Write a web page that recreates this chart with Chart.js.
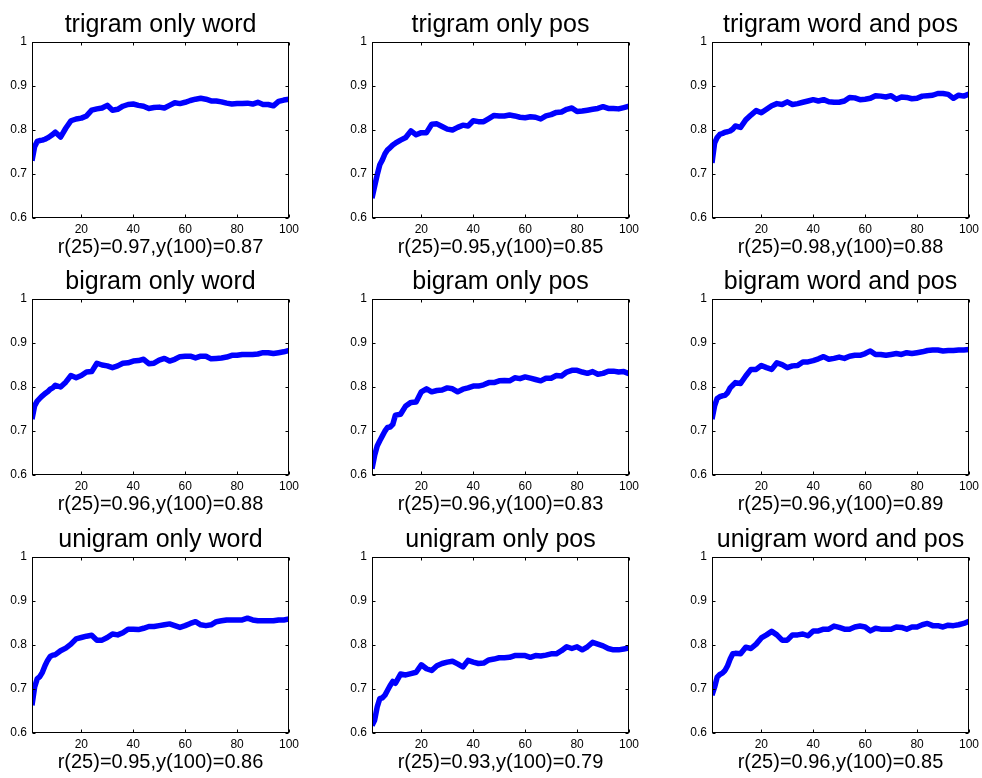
<!DOCTYPE html>
<html>
<head>
<meta charset="utf-8">
<script src="https://cdn.jsdelivr.net/npm/chart.js@4.4.1/dist/chart.umd.min.js"></script>
<style>
  html, body { margin: 0; padding: 0; background: #fff; overflow: hidden; }
  #wrap { position: relative; width: 982px; height: 778px; }
  #wrap canvas { position: absolute; }
</style>
</head>
<body>
<div id="wrap"></div>
<script>
// sample positions on the x axis (shared by all nine panels)
const xs = [1, 2, 3, 4, 5, 6, 7, 8, 9, 10,
  12, 14, 16, 18, 20, 22, 24, 26, 28, 30,
  32, 34, 36, 38, 40, 42, 44, 46, 48, 50,
  52, 54, 56, 58, 60, 62, 64, 66, 68, 70,
  72, 74, 76, 78, 80, 82, 84, 86, 88, 90,
  92, 94, 96, 98, 100];

const trigramWord = [0.730, 0.762, 0.774, 0.776, 0.777, 0.779, 0.782, 0.786, 0.790, 0.795,
  0.784, 0.804, 0.821, 0.825, 0.827, 0.832, 0.845, 0.848, 0.850, 0.856,
  0.845, 0.847, 0.854, 0.858, 0.859, 0.856, 0.854, 0.849, 0.851, 0.852,
  0.850, 0.856, 0.862, 0.860, 0.863, 0.867, 0.870, 0.872, 0.870, 0.866,
  0.866, 0.864, 0.861, 0.859, 0.860, 0.860, 0.861, 0.859, 0.863, 0.858,
  0.858, 0.855, 0.865, 0.868, 0.870];
const trigramPos = [0.645, 0.672, 0.698, 0.721, 0.732, 0.746, 0.755, 0.760, 0.766, 0.770,
  0.777, 0.783, 0.798, 0.789, 0.794, 0.794, 0.813, 0.814, 0.808, 0.802,
  0.800, 0.806, 0.811, 0.809, 0.821, 0.819, 0.819, 0.826, 0.833, 0.832,
  0.832, 0.834, 0.832, 0.829, 0.828, 0.830, 0.829, 0.825, 0.832, 0.835,
  0.840, 0.841, 0.847, 0.850, 0.842, 0.843, 0.845, 0.847, 0.849, 0.853,
  0.849, 0.849, 0.848, 0.851, 0.854];
const trigramBoth = [0.725, 0.770, 0.783, 0.790, 0.792, 0.795, 0.796, 0.798, 0.802, 0.809,
  0.806, 0.823, 0.834, 0.844, 0.839, 0.847, 0.855, 0.860, 0.858, 0.864,
  0.858, 0.860, 0.863, 0.866, 0.869, 0.866, 0.869, 0.864, 0.863, 0.863,
  0.866, 0.874, 0.873, 0.869, 0.870, 0.872, 0.878, 0.877, 0.875, 0.878,
  0.870, 0.875, 0.874, 0.871, 0.872, 0.877, 0.878, 0.879, 0.883, 0.883,
  0.881, 0.872, 0.879, 0.877, 0.882];
const bigramWord = [0.727, 0.757, 0.768, 0.774, 0.780, 0.785, 0.789, 0.795, 0.798, 0.804,
  0.800, 0.811, 0.826, 0.821, 0.826, 0.834, 0.835, 0.854, 0.850, 0.848,
  0.844, 0.848, 0.854, 0.855, 0.859, 0.860, 0.863, 0.853, 0.854, 0.861,
  0.865, 0.859, 0.863, 0.869, 0.870, 0.870, 0.866, 0.870, 0.870, 0.864,
  0.865, 0.866, 0.868, 0.872, 0.872, 0.874, 0.874, 0.874, 0.875, 0.878,
  0.878, 0.876, 0.878, 0.880, 0.883];
const bigramPos = [0.614, 0.644, 0.666, 0.678, 0.689, 0.700, 0.708, 0.709, 0.715, 0.736,
  0.738, 0.757, 0.765, 0.766, 0.789, 0.796, 0.789, 0.792, 0.793, 0.798,
  0.796, 0.789, 0.795, 0.798, 0.802, 0.802, 0.805, 0.810, 0.810, 0.814,
  0.815, 0.814, 0.821, 0.819, 0.823, 0.820, 0.817, 0.814, 0.820, 0.820,
  0.826, 0.825, 0.834, 0.838, 0.838, 0.834, 0.831, 0.835, 0.829, 0.831,
  0.836, 0.836, 0.834, 0.835, 0.830];
const bigramBoth = [0.727, 0.757, 0.774, 0.778, 0.780, 0.781, 0.787, 0.798, 0.804, 0.810,
  0.808, 0.825, 0.840, 0.840, 0.849, 0.844, 0.840, 0.855, 0.851, 0.844,
  0.848, 0.849, 0.857, 0.857, 0.860, 0.864, 0.869, 0.863, 0.865, 0.868,
  0.865, 0.870, 0.872, 0.872, 0.876, 0.882, 0.874, 0.874, 0.872, 0.874,
  0.876, 0.874, 0.878, 0.876, 0.878, 0.880, 0.883, 0.884, 0.884, 0.882,
  0.883, 0.883, 0.884, 0.884, 0.885];
const unigramWord = [0.663, 0.704, 0.723, 0.728, 0.738, 0.753, 0.765, 0.774, 0.777, 0.778,
  0.787, 0.793, 0.802, 0.814, 0.817, 0.820, 0.822, 0.811, 0.811, 0.817,
  0.825, 0.823, 0.828, 0.836, 0.836, 0.835, 0.838, 0.842, 0.842, 0.844,
  0.846, 0.848, 0.844, 0.840, 0.844, 0.849, 0.853, 0.846, 0.844, 0.846,
  0.853, 0.855, 0.857, 0.857, 0.857, 0.857, 0.861, 0.857, 0.855, 0.855,
  0.855, 0.855, 0.857, 0.857, 0.859];
const unigramPos = [0.617, 0.629, 0.659, 0.678, 0.680, 0.686, 0.697, 0.708, 0.717, 0.713,
  0.734, 0.732, 0.735, 0.738, 0.755, 0.746, 0.742, 0.753, 0.758, 0.761,
  0.763, 0.757, 0.750, 0.765, 0.761, 0.758, 0.759, 0.766, 0.768, 0.771,
  0.771, 0.772, 0.776, 0.776, 0.776, 0.772, 0.776, 0.775, 0.777, 0.780,
  0.780, 0.787, 0.796, 0.792, 0.796, 0.789, 0.796, 0.806, 0.802, 0.798,
  0.792, 0.789, 0.789, 0.791, 0.793];
const unigramBoth = [0.686, 0.704, 0.727, 0.733, 0.736, 0.742, 0.753, 0.768, 0.780, 0.781,
  0.780, 0.795, 0.792, 0.802, 0.816, 0.823, 0.831, 0.823, 0.811, 0.811,
  0.823, 0.823, 0.825, 0.821, 0.832, 0.832, 0.836, 0.836, 0.843, 0.840,
  0.836, 0.836, 0.841, 0.843, 0.841, 0.832, 0.838, 0.836, 0.836, 0.836,
  0.841, 0.840, 0.836, 0.841, 0.841, 0.846, 0.849, 0.844, 0.844, 0.841,
  0.845, 0.844, 0.846, 0.849, 0.854];

const titles = ["trigram only word", "trigram only pos", "trigram word and pos",
  "bigram only word", "bigram only pos", "bigram word and pos",
  "unigram only word", "unigram only pos", "unigram word and pos"];
const xLabels = ["r(25)=0.97,y(100)=0.87", "r(25)=0.95,y(100)=0.85", "r(25)=0.98,y(100)=0.88",
  "r(25)=0.96,y(100)=0.88", "r(25)=0.96,y(100)=0.83", "r(25)=0.96,y(100)=0.89",
  "r(25)=0.95,y(100)=0.86", "r(25)=0.93,y(100)=0.79", "r(25)=0.96,y(100)=0.85"];
const series = [trigramWord, trigramPos, trigramBoth,
  bigramWord, bigramPos, bigramBoth,
  unigramWord, unigramPos, unigramBoth];

const xTicks = [20, 40, 60, 80, 100];
const yTicks = [0.6, 0.7, 0.8, 0.9, 1];

const FONT = "'Liberation Sans', Arial, Helvetica, sans-serif";

// box around the axes with small inward tick marks (matlab look)
const framePlugin = {
  id: "frame",
  afterDatasetsDraw(chart) {
    const { ctx, chartArea: a, scales } = chart;
    const l = Math.round(a.left) + 0.5, r = Math.round(a.right) - 0.5;
    const t = Math.round(a.top) + 0.5, b = Math.round(a.bottom) - 0.5;
    ctx.save();
    ctx.strokeStyle = "#000";
    ctx.lineWidth = 1;
    ctx.strokeRect(l, t, r - l, b - t);
    ctx.beginPath();
    xTicks.forEach(v => {
      const px = Math.round(scales.x.getPixelForValue(v)) + 0.5;
      ctx.moveTo(px, b); ctx.lineTo(px, b - 3);
      ctx.moveTo(px, t); ctx.lineTo(px, t + 3);
    });
    yTicks.forEach(v => {
      const py = Math.round(scales.y.getPixelForValue(v)) + 0.5;
      ctx.moveTo(l, py); ctx.lineTo(l + 3, py);
      ctx.moveTo(r, py); ctx.lineTo(r - 3, py);
    });
    ctx.stroke();
    ctx.restore();
  }
};

const colLeft = [0, 340, 680];
const rowTop = [0, 257, 515];
const wrap = document.getElementById("wrap");

series.forEach((ys, i) => {
  const cv = document.createElement("canvas");
  cv.width = 303;
  cv.height = 259;
  cv.style.left = colLeft[i % 3] + "px";
  cv.style.top = rowTop[Math.floor(i / 3)] + "px";
  wrap.appendChild(cv);

  new Chart(cv.getContext("2d"), {
    type: "line",
    data: {
      datasets: [{
        data: xs.map((x, k) => ({ x: x, y: ys[k] })),
        borderColor: "#0000ff",
        borderWidth: 5.5,
        borderJoinStyle: "round",
        pointRadius: 0,
        tension: 0,
        fill: false
      }]
    },
    options: {
      responsive: false,
      animation: false,
      devicePixelRatio: 1,
      layout: { padding: { left: 0, right: 14, top: 0, bottom: 0 } },
      plugins: {
        legend: { display: false },
        tooltip: { enabled: false },
        title: {
          display: true,
          text: titles[i],
          fullSize: false,
          color: "#000",
          font: { family: FONT, size: 25, weight: "normal" },
          padding: { top: 10, bottom: 2 }
        }
      },
      scales: {
        x: {
          type: "linear",
          min: 1,
          max: 100,
          grid: { display: false, drawTicks: false, tickLength: 0 },
          border: { display: false },
          afterBuildTicks: s => { s.ticks = xTicks.map(v => ({ value: v })); },
          afterFit: s => { s.height = 41; },
          ticks: {
            color: "#000",
            padding: 4,
            maxRotation: 0,
            autoSkip: false,
            font: { family: FONT, size: 12 },
            callback: v => String(v)
          },
          title: {
            display: true,
            text: xLabels[i],
            color: "#000",
            font: { family: FONT, size: 20 },
            padding: { top: 0, bottom: 0 }
          }
        },
        y: {
          min: 0.6,
          max: 1,
          grid: { display: false, drawTicks: false, tickLength: 0 },
          border: { display: false },
          afterBuildTicks: s => { s.ticks = yTicks.map(v => ({ value: v })); },
          afterFit: s => { s.width = 32; },
          ticks: {
            color: "#000",
            padding: 5,
            autoSkip: false,
            font: { family: FONT, size: 12 },
            callback: v => (v === 1 ? "1" : v.toFixed(1))
          }
        }
      }
    },
    plugins: [framePlugin]
  });
});
</script>
</body>
</html>
